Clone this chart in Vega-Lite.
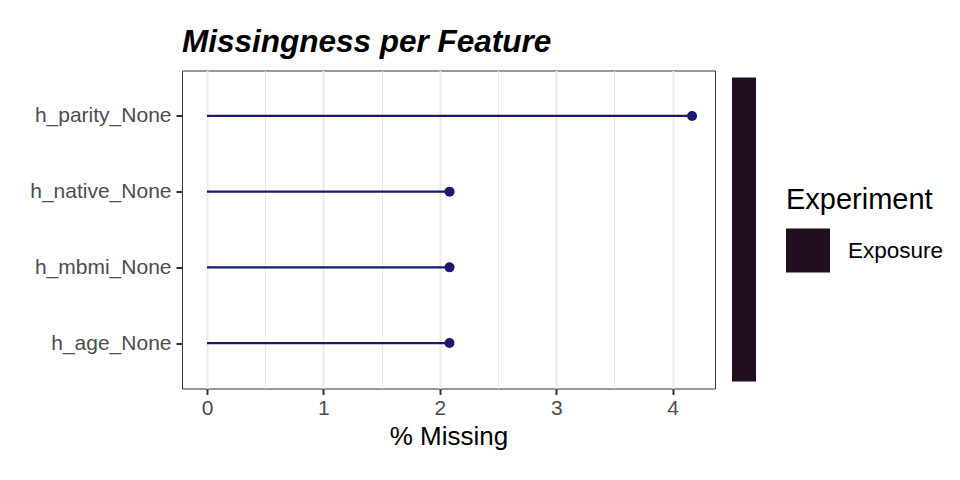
{
  "$schema": "https://vega.github.io/schema/vega-lite/v6.json",
  "background": "white",
  "padding": {"left": 29, "top": 26.5, "right": 5, "bottom": 5},
  "config": {
    "font": "Liberation Sans",
    "axis": {"labelFont": "Liberation Sans", "titleFont": "Liberation Sans"},
    "legend": {"labelFont": "Liberation Sans", "titleFont": "Liberation Sans"}
  },
  "datasets": {
    "miss": [
      {"feature": "h_parity_None", "pct": 4.1667},
      {"feature": "h_native_None", "pct": 2.0833},
      {"feature": "h_mbmi_None", "pct": 2.0833},
      {"feature": "h_age_None", "pct": 2.0833}
    ],
    "exp": [{"Experiment": "Exposure"}]
  },
  "spacing": 16,
  "hconcat": [
    {
      "width": 533,
      "height": 318,
      "title": {
        "text": "Missingness per Feature",
        "anchor": "start",
        "frame": "group",
        "font": "Liberation Sans",
        "fontSize": 31.5,
        "fontWeight": "bold",
        "fontStyle": "italic",
        "color": "black",
        "offset": 12
      },
      "view": {"stroke": "#333333", "strokeWidth": 1},
      "data": {"name": "miss"},
      "encoding": {
        "y": {
          "field": "feature",
          "type": "nominal",
          "sort": ["h_parity_None", "h_native_None", "h_mbmi_None", "h_age_None"],
          "scale": {"type": "point", "padding": 0.6},
          "axis": {
            "title": null,
            "domain": false,
            "labelFontSize": 21,
            "labelColor": "#4D4D4D",
            "labelPadding": 5,
            "tickColor": "#333333",
            "tickSize": 6,
            "tickWidth": 2,
            "gridColor": "#EBEBEB",
            "gridWidth": 2
          }
        }
      },
      "layer": [
        {
          "mark": {"type": "rule", "color": "#191970", "strokeWidth": 2.2},
          "encoding": {
            "x": {
              "field": "pct",
              "type": "quantitative",
              "scale": {"domain": [-0.2145, 4.3635], "nice": false, "zero": false},
              "axis": {
                "title": "% Missing",
                "titleFontSize": 26,
                "titleFontWeight": "normal",
                "titleColor": "black",
                "titlePadding": 5,
                "domain": false,
                "values": [0, 0.5, 1, 1.5, 2, 2.5, 3, 3.5, 4],
                "labelExpr": "datum.value % 1 == 0 ? format(datum.value, 'd') : ''",
                "labelFontSize": 21,
                "labelColor": "#4D4D4D",
                "labelPadding": 3,
                "tickColor": {"condition": {"test": "datum.value % 1 == 0", "value": "#333333"}, "value": "transparent"},
                "tickSize": 6,
                "tickWidth": 2,
                "gridColor": "#EBEBEB",
                "gridWidth": {"condition": {"test": "datum.value % 1 == 0", "value": 2}, "value": 1}
              }
            },
            "x2": {"datum": 0}
          }
        },
        {
          "mark": {"type": "point", "filled": true, "color": "#191970", "size": 100, "opacity": 1},
          "encoding": {
            "x": {"field": "pct", "type": "quantitative"}
          }
        }
      ]
    },
    {
      "width": 24,
      "height": 318,
      "view": {"stroke": null},
      "data": {"name": "exp"},
      "mark": {"type": "rect"},
      "encoding": {
        "y": {
          "field": "Experiment",
          "type": "nominal",
          "axis": null,
          "scale": {"paddingInner": 0, "paddingOuter": 0.023}
        },
        "color": {
          "field": "Experiment",
          "type": "nominal",
          "scale": {"range": ["#210F21"]},
          "legend": {
            "title": "Experiment",
            "orient": "none",
            "legendX": 604,
            "legendY": 115,
            "titleFontSize": 29,
            "titleFontWeight": "normal",
            "titleColor": "black",
            "titlePadding": 14,
            "labelFontSize": 22.5,
            "labelColor": "black",
            "labelOffset": 18,
            "symbolType": "square",
            "symbolSize": 1936,
            "symbolStrokeWidth": 0,
            "symbolOpacity": 1
          }
        }
      }
    }
  ]
}
